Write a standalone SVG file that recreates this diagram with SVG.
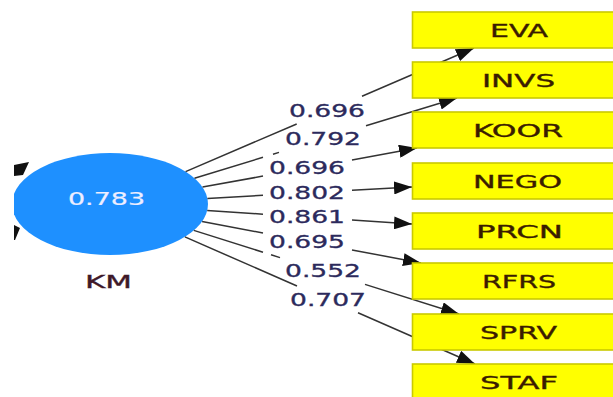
<svg xmlns="http://www.w3.org/2000/svg" width="613" height="397" viewBox="0 0 613 397">
<style>
.box{fill:#FFFF00;stroke:#CACA00;stroke-width:1.6}
.bt{font-family:"DejaVu Sans","Liberation Sans",sans-serif;font-size:18px;fill:#3a1c00;stroke:#3a1c00;stroke-width:0.35}
.lbl{font-family:"DejaVu Sans","Liberation Sans",sans-serif;font-size:17px;fill:#2c2a5c;stroke:#2c2a5c;stroke-width:0.3}
.ln{fill:none;stroke:#333;stroke-width:1.5}
</style>
<defs>
<marker id="ah" markerUnits="userSpaceOnUse" markerWidth="18" markerHeight="13" refX="18" refY="6.5" orient="auto">
<path d="M0,0 L18,6.5 L0,13 z" fill="#111"/>
</marker>
<clipPath id="cl"><rect x="14" y="0" width="600" height="397"/></clipPath>
</defs>
<rect width="613" height="397" fill="#fff"/>
<g id="KM">
<ellipse cx="110" cy="204" rx="98" ry="51" fill="#1E90FF" clip-path="url(#cl)"/>
<polygon points="14,165 29,162 23,175 14,176" fill="#111"/>
<polygon points="14,225 20,228 15,240 14,240" fill="#111"/>
<text x="68" y="205" class="lbl" style="fill:#eeeeff;stroke:#eeeeff;stroke-width:0.2" textLength="77" lengthAdjust="spacingAndGlyphs">0.783</text>
<text x="85" y="288" class="bt" style="fill:#3e1828;stroke:#3e1828" textLength="47" lengthAdjust="spacingAndGlyphs">KM</text>
</g>
<g id="connectors">
<path class="ln" d="M185.6,171.6 L296.7,124 M362,96.2 L474,48" marker-end="url(#ah)"/>
<path class="ln" d="M194.5,178.2 L263,157.3 M273,154.2 L279,152.4 M366,125.8 L457,98" marker-end="url(#ah)"/>
<path class="ln" d="M202.5,187.1 L263,176.1 M352,159.9 L417,148" marker-end="url(#ah)"/>
<path class="ln" d="M207.4,198.5 L263,195.3 M352,190.3 L412,187" marker-end="url(#ah)"/>
<path class="ln" d="M207.2,210.5 L263,214.2 M352,220.1 L412,224.1" marker-end="url(#ah)"/>
<path class="ln" d="M202.1,221.5 L263,233 M352,249.9 L421,263" marker-end="url(#ah)"/>
<path class="ln" d="M193.8,230.4 L263,252.2 M271,254.8 L280,257.6 M365,284.4 L459,314" marker-end="url(#ah)"/>
<path class="ln" d="M184.9,236.9 L297,286 M358,312.7 L475,364" marker-end="url(#ah)"/>
</g>
<g id="labels">
<text x="289" y="117.2" class="lbl" textLength="76" lengthAdjust="spacingAndGlyphs">0.696</text>
<text x="285" y="145" class="lbl" textLength="76" lengthAdjust="spacingAndGlyphs">0.792</text>
<text x="269" y="174.3" class="lbl" textLength="76" lengthAdjust="spacingAndGlyphs">0.696</text>
<text x="269" y="199" class="lbl" textLength="76" lengthAdjust="spacingAndGlyphs">0.802</text>
<text x="269" y="223.3" class="lbl" textLength="76" lengthAdjust="spacingAndGlyphs">0.861</text>
<text x="269" y="247.6" class="lbl" textLength="76" lengthAdjust="spacingAndGlyphs">0.695</text>
<text x="285" y="277.3" class="lbl" textLength="76" lengthAdjust="spacingAndGlyphs">0.552</text>
<text x="290" y="305.8" class="lbl" textLength="76" lengthAdjust="spacingAndGlyphs">0.707</text>
</g>
<g id="EVA"><rect class="box" x="412.5" y="12" width="220" height="36"/><text class="bt" x="490" y="36.5" textLength="58" lengthAdjust="spacingAndGlyphs">EVA</text></g>
<g id="INVS"><rect class="box" x="412.5" y="62" width="220" height="36"/><text class="bt" x="482" y="86.5" textLength="73" lengthAdjust="spacingAndGlyphs">INVS</text></g>
<g id="KOOR"><rect class="box" x="412.5" y="112" width="220" height="36"/><text class="bt" x="473" y="136.5" textLength="90" lengthAdjust="spacingAndGlyphs">KOOR</text></g>
<g id="NEGO"><rect class="box" x="412.5" y="163" width="220" height="36"/><text class="bt" x="473" y="187.5" textLength="89" lengthAdjust="spacingAndGlyphs">NEGO</text></g>
<g id="PRCN"><rect class="box" x="412.5" y="213" width="220" height="36"/><text class="bt" x="476" y="237.5" textLength="87" lengthAdjust="spacingAndGlyphs">PRCN</text></g>
<g id="RFRS"><rect class="box" x="412.5" y="263" width="220" height="36"/><text class="bt" x="482" y="287.5" textLength="74" lengthAdjust="spacingAndGlyphs">RFRS</text></g>
<g id="SPRV"><rect class="box" x="412.5" y="314" width="220" height="36"/><text class="bt" x="480" y="338.5" textLength="77" lengthAdjust="spacingAndGlyphs">SPRV</text></g>
<g id="STAF"><rect class="box" x="412.5" y="364" width="220" height="36"/><text class="bt" x="480" y="388.5" textLength="78" lengthAdjust="spacingAndGlyphs">STAF</text></g>
</svg>
